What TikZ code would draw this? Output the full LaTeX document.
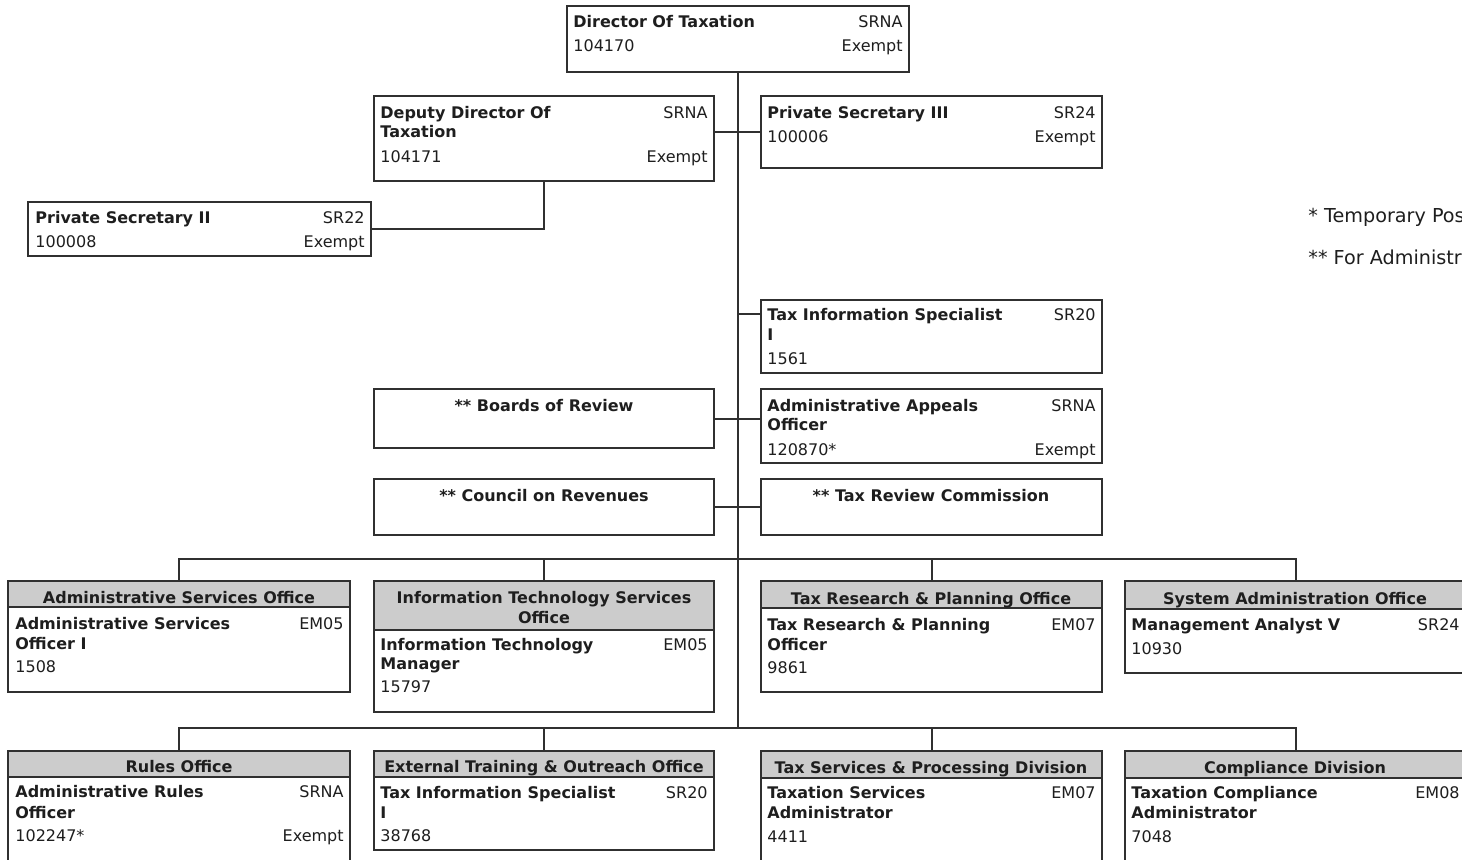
\documentclass[tikz,border=0pt]{standalone}
\usepackage{fontspec}
\setmainfont{DejaVu Sans}
\usetikzlibrary{calc}
\definecolor{ln}{HTML}{303030}
\definecolor{tx}{HTML}{1E1E1E}
\definecolor{hd}{HTML}{CCCCCC}
\newcommand\frm[5]{\node[frame, minimum width=#4*0.5pt, minimum height=#5*0.5pt] (#1) at (#2,#3) {};}
\newcommand\bnd[5]{\node[band, minimum width=#4*0.5pt, minimum height=#5*0.5pt] (#1) at (#2,#3) {};}
\begin{document}
\begin{tikzpicture}[x=0.5pt,y=-0.5pt,
  font=\fontsize{8pt}{9.5pt}\selectfont, text=tx,
  frame/.style={draw=ln, line width=1pt, anchor=north west, inner sep=0pt, outer sep=0pt},
  band/.style={frame, fill=hd},
  ttl/.style={anchor=base west, inner sep=0pt, font=\fontsize{8pt}{9.5pt}\selectfont\bfseries},
  lft/.style={anchor=base west, inner sep=0pt},
  rgt/.style={anchor=base east, inner sep=0pt},
  ctr/.style={anchor=base, inner sep=0pt, font=\fontsize{8pt}{9.5pt}\selectfont\bfseries},
  note/.style={anchor=base west, inner sep=0pt, font=\fontsize{9.6pt}{11pt}\selectfont},
  wire/.style={draw=ln, line width=1pt}]
\useasboundingbox (0,0) rectangle (1462,859);
\fill[white] (0,0) rectangle (1462,859);
\clip (0,0) rectangle (1462,859);

% ---------- top boxes ----------
\frm{dir}{567}{6}{342}{66}
\node[ttl] (dirA) at (573,27) {Director Of Taxation};
\node[rgt] (dirB) at (903,27) {SRNA};
\node[lft] (dirC) at (573,51) {104170};
\node[rgt] (dirD) at (903,51) {Exempt};

\frm{dep}{374}{96}{340}{85}
\node[ttl] (depA) at (380,118) {Deputy Director Of};
\node[ttl] (depA2) at (380,137) {Taxation};
\node[rgt] (depB) at (708,118) {SRNA};
\node[lft] (depC) at (380,162) {104171};
\node[rgt] (depD) at (708,162) {Exempt};

\frm{psiii}{761}{96}{341}{72}
\node[ttl] (psiiiA) at (767,118) {Private Secretary III};
\node[rgt] (psiiiB) at (1096,118) {SR24};
\node[lft] (psiiiC) at (767,142) {100006};
\node[rgt] (psiiiD) at (1096,142) {Exempt};

\frm{psii}{28}{202}{343}{54}
\node[ttl] (psiiA) at (35,223) {Private Secretary II};
\node[rgt] (psiiB) at (365,223) {SR22};
\node[lft] (psiiC) at (35,247) {100008};
\node[rgt] (psiiD) at (365,247) {Exempt};

\frm{tis}{761}{300}{341}{73}
\node[ttl] (tisA) at (767,320) {Tax Information Specialist};
\node[ttl] (tisA2) at (767,340) {I};
\node[rgt] (tisB) at (1096,320) {SR20};
\node[lft] (tisC) at (767,364) {1561};

\frm{bor}{374}{389}{340}{59}
\node[ctr] (borA) at (544,411) {** Boards of Review};

\frm{aao}{761}{389}{341}{74}
\node[ttl] (aaoA) at (767,411) {Administrative Appeals};
\node[ttl] (aaoA2) at (767,430) {Officer};
\node[rgt] (aaoB) at (1096,411) {SRNA};
\node[lft] (aaoC) at (767,455) {120870*};
\node[rgt] (aaoD) at (1096,455) {Exempt};

\frm{cor}{374}{479}{340}{56}
\node[ctr] (corA) at (544,501) {** Council on Revenues};

\frm{trc}{761}{479}{341}{56}
\node[ctr] (trcA) at (931,501) {** Tax Review Commission};

% ---------- legend ----------
\node[note] (legA) at (1308,222) {* Temporary Position};
\node[note] (legB) at (1308,264) {** For Administrative Purposes};

% ---------- row 1 ----------
\frm{aso}{8}{581}{342}{111}
\bnd{asoH}{8}{581}{342}{26}
\node[ctr] (asoH1) at (179,603) {Administrative Services Office};
\node[ttl] (asoA) at (15,629) {Administrative Services};
\node[ttl] (asoA2) at (15,649) {Officer I};
\node[rgt] (asoB) at (344,629) {EM05};
\node[lft] (asoC) at (15,672) {1508};

\frm{its}{374}{581}{340}{131}
\bnd{itsH}{374}{581}{340}{49}
\node[ctr] (itsH1) at (544,603) {Information Technology Services};
\node[ctr] (itsH2) at (544,623) {Office};
\node[ttl] (itsA) at (380,650) {Information Technology};
\node[ttl] (itsA2) at (380,669) {Manager};
\node[rgt] (itsB) at (708,650) {EM05};
\node[lft] (itsC) at (380,692) {15797};

\frm{trp}{761}{581}{341}{111}
\bnd{trpH}{761}{581}{341}{27}
\node[ctr] (trpH1) at (931,604) {Tax Research \& Planning Office};
\node[ttl] (trpA) at (767,630) {Tax Research \& Planning};
\node[ttl] (trpA2) at (767,650) {Officer};
\node[rgt] (trpB) at (1096,630) {EM07};
\node[lft] (trpC) at (767,673) {9861};

\frm{sao}{1125}{581}{341}{92}
\bnd{saoH}{1125}{581}{341}{28}
\node[ctr] (saoH1) at (1295,604) {System Administration Office};
\node[ttl] (saoA) at (1131,630) {Management Analyst V};
\node[rgt] (saoB) at (1460,630) {SR24};
\node[lft] (saoC) at (1131,654) {10930};

% ---------- row 2 ----------
\frm{rul}{8}{751}{342}{120}
\bnd{rulH}{8}{751}{342}{26}
\node[ctr] (rulH1) at (179,772) {Rules Office};
\node[ttl] (rulA) at (15,797) {Administrative Rules};
\node[ttl] (rulA2) at (15,818) {Officer};
\node[rgt] (rulB) at (344,797) {SRNA};
\node[lft] (rulC) at (15,841) {102247*};
\node[rgt] (rulD) at (344,841) {Exempt};

\frm{eto}{374}{751}{340}{99}
\bnd{etoH}{374}{751}{340}{26}
\node[ctr] (etoH1) at (544,772) {External Training \& Outreach Office};
\node[ttl] (etoA) at (380,798) {Tax Information Specialist};
\node[ttl] (etoA2) at (380,818) {I};
\node[rgt] (etoB) at (708,798) {SR20};
\node[lft] (etoC) at (380,841) {38768};

\frm{tsp}{761}{751}{341}{120}
\bnd{tspH}{761}{751}{341}{27}
\node[ctr] (tspH1) at (931,773) {Tax Services \& Processing Division};
\node[ttl] (tspA) at (767,798) {Taxation Services};
\node[ttl] (tspA2) at (767,818) {Administrator};
\node[rgt] (tspB) at (1096,798) {EM07};
\node[lft] (tspC) at (767,842) {4411};

\frm{cmp}{1125}{751}{341}{120}
\bnd{cmpH}{1125}{751}{341}{27}
\node[ctr] (cmpH1) at (1295,773) {Compliance Division};
\node[ttl] (cmpA) at (1131,798) {Taxation Compliance};
\node[ttl] (cmpA2) at (1131,818) {Administrator};
\node[rgt] (cmpB) at (1460,798) {EM08};
\node[lft] (cmpC) at (1131,842) {7048};

% ---------- connectors ----------
\coordinate (busA) at (737,559);
\coordinate (busB) at (737,728);
\coordinate (tisL) at ([yshift=-7pt]tis.north west);
\draw[wire] (dir.south) -- (dir.south |- busB);
\draw[wire] (psiii.west) -- (dep.east |- psiii.west);
\draw[wire] (dep.south) -- (dep.south |- psii.east) -- (psii.east);
\draw[wire] (tisL) -- (dir.south |- tisL);
\draw[wire] (bor.east) -- (bor.east -| aao.west);
\draw[wire] (cor.east) -- (trc.west);
\draw[wire] (aso.north) -- (aso.north |- busA) -- (sao.north |- busA) -- (sao.north);
\draw[wire] (its.north) -- (its.north |- busA);
\draw[wire] (trp.north) -- (trp.north |- busA);
\draw[wire] (rul.north) -- (rul.north |- busB) -- (cmp.north |- busB) -- (cmp.north);
\draw[wire] (eto.north) -- (eto.north |- busB);
\draw[wire] (tsp.north) -- (tsp.north |- busB);
\end{tikzpicture}
\end{document}
